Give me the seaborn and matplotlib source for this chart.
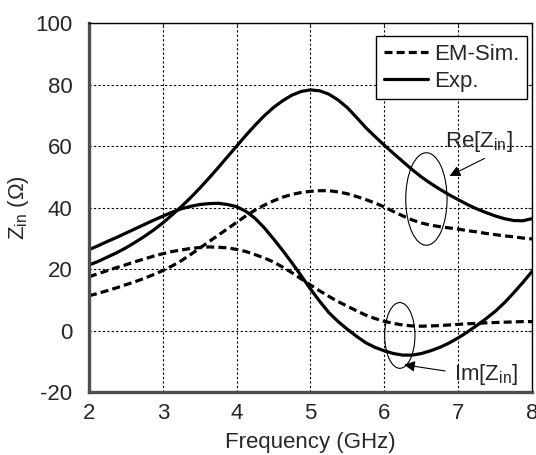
import numpy as np
import pandas as pd
import matplotlib
matplotlib.use("Agg")
import matplotlib.pyplot as plt
from matplotlib.patches import Ellipse
import seaborn as sns

freq = [2.0, 2.125, 2.25, 2.375, 2.5, 2.625, 2.75, 2.875, 3.0, 3.125, 3.25, 3.375,
        3.5, 3.625, 3.75, 3.875, 4.0, 4.125, 4.25, 4.375, 4.5, 4.625, 4.75, 4.875,
        5.0, 5.125, 5.25, 5.375, 5.5, 5.625, 5.75, 5.875, 6.0, 6.125, 6.25, 6.375,
        6.5, 6.625, 6.75, 6.875, 7.0, 7.125, 7.25, 7.375, 7.5, 7.625, 7.75, 7.875, 8.0]

exp_re = [21.3, 22.5, 23.9, 25.3, 26.9, 28.7, 30.6, 32.7, 35.0, 37.6, 40.3, 43.2,
          46.3, 49.6, 53.0, 56.5, 60.0, 63.5, 66.8, 69.9, 72.6, 74.8, 76.6, 77.8,
          78.3, 78.0, 76.9, 75.0, 72.5, 69.3, 66.0, 63.1, 60.3, 57.6, 55.0, 52.4,
          50.0, 47.9, 46.0, 44.2, 42.6, 41.0, 39.6, 38.4, 37.3, 36.4, 35.8, 35.7, 36.4]
exp_im = [26.3, 27.6, 29.0, 30.3, 31.7, 33.1, 34.5, 35.9, 37.2, 38.5, 39.6, 40.4,
          41.0, 41.3, 41.4, 41.0, 40.3, 38.8, 36.5, 33.4, 29.8, 26.0, 22.0, 17.8,
          13.5, 9.5, 5.8, 2.9, 0.4, -1.9, -4.0, -5.5, -6.6, -7.5, -8.0, -8.0,
          -7.5, -6.6, -5.5, -4.1, -2.4, -0.5, 1.6, 3.8, 6.2, 9.0, 12.2, 15.6, 19.2]
sim_re = [11.3, 12.1, 13.0, 13.9, 14.9, 15.9, 17.0, 18.2, 19.5, 21.0, 22.7, 24.7,
          26.8, 28.9, 31.0, 33.1, 35.2, 37.3, 39.2, 40.8, 42.2, 43.4, 44.3, 44.9,
          45.3, 45.5, 45.5, 45.1, 44.5, 43.6, 42.6, 41.5, 40.2, 38.7, 37.3, 36.0,
          35.0, 34.3, 33.8, 33.4, 33.0, 32.5, 32.1, 31.6, 31.2, 30.8, 30.5, 30.1, 29.8]
sim_im = [17.5, 18.5, 19.5, 20.5, 21.4, 22.4, 23.3, 24.2, 25.0, 25.7, 26.2, 26.7,
          27.0, 27.2, 27.1, 26.9, 26.4, 25.7, 24.7, 23.6, 22.3, 20.6, 18.8, 16.8,
          14.8, 12.9, 11.1, 9.4, 7.9, 6.4, 5.0, 3.9, 3.0, 2.3, 1.8, 1.5,
          1.4, 1.5, 1.6, 1.8, 2.0, 2.2, 2.3, 2.5, 2.6, 2.7, 2.8, 2.9, 2.9]

xticks = [2, 3, 4, 5, 6, 7, 8]
yticks = [-20, 0, 20, 40, 60, 80, 100]

sns.set_style("white")
plt.rcParams['font.family'] = ['Liberation Sans', 'DejaVu Sans']
plt.rcParams['axes.unicode_minus'] = False
fs = 16

fig = plt.figure(figsize=(5.36, 4.55), dpi=100)
ax = fig.add_axes([0.166, 0.1385, 0.8265, 0.8105])

df = pd.DataFrame({"f": freq, "exp_re": exp_re, "exp_im": exp_im,
                   "sim_re": sim_re, "sim_im": sim_im})

dash = (0, (2.5, 1.3))
kw = dict(color="black", lw=2.3, solid_joinstyle="round")
sns.lineplot(data=df, x="f", y="sim_re", ax=ax, linestyle=dash, label="EM-Sim.", **kw)
sns.lineplot(data=df, x="f", y="exp_re", ax=ax, label="Exp.", **kw)
sns.lineplot(data=df, x="f", y="sim_im", ax=ax, linestyle=dash, legend=False, **kw)
sns.lineplot(data=df, x="f", y="exp_im", ax=ax, legend=False, **kw)

ax.set_xlim(2, 8)
ax.set_ylim(-20, 100)
ax.set_xticks(xticks)
ax.set_yticks(yticks)
ax.grid(True, color="black", linestyle=(0, (2, 2)), lw=0.8)
ax.tick_params(axis="both", direction="in", length=3, width=0.8,
               labelsize=fs, top=True, right=True)
ax.tick_params(axis="y", pad=12)
ax.tick_params(axis="x", pad=8)

for side in ["left", "bottom"]:
    ax.spines[side].set_linewidth(2.4)
    ax.spines[side].set_color("#4d4d4d")
for side in ["top", "right"]:
    ax.spines[side].set_linewidth(1.0)
    ax.spines[side].set_color("black")

ax.set_xlabel("Frequency (GHz)", fontsize=fs, labelpad=6)
ax.set_ylabel("Z$_\\mathregular{in}$ (\u03a9)", fontsize=fs, labelpad=3)

leg = ax.legend(loc="upper right", bbox_to_anchor=(1 - 5 / 443, 1 - 13 / 369),
                borderaxespad=0, frameon=True, fancybox=False, fontsize=fs,
                handlelength=2.0, handletextpad=0.25, borderpad=0.35,
                labelspacing=0.25)
leg.get_frame().set_edgecolor("black")
leg.get_frame().set_linewidth(1.0)
leg.get_frame().set_alpha(1)

# ellipses and labels for the two curve groups
ax.add_patch(Ellipse((6.57, 42.8), 0.56, 30.1, fill=False, lw=0.8, color="black"))
ax.add_patch(Ellipse((6.21, -1.6), 0.41, 21.4, fill=False, lw=0.8, color="black"))
ax.annotate("", xy=(6.85, 49.9), xytext=(7.39, 56.4),
            arrowprops=dict(arrowstyle="-|>", color="black", lw=0.8, mutation_scale=16))
ax.annotate("", xy=(6.23, -11.0), xytext=(6.86, -13.3),
            arrowprops=dict(arrowstyle="-|>", color="black", lw=0.8, mutation_scale=16))
ax.text(6.82, 61.6, "Re[Z$_\\mathregular{in}$]", fontsize=fs, va="center", ha="left")
ax.text(6.94, -14.3, "Im[Z$_\\mathregular{in}$]", fontsize=fs, va="center", ha="left")

fig.savefig("out.png", dpi=100)
